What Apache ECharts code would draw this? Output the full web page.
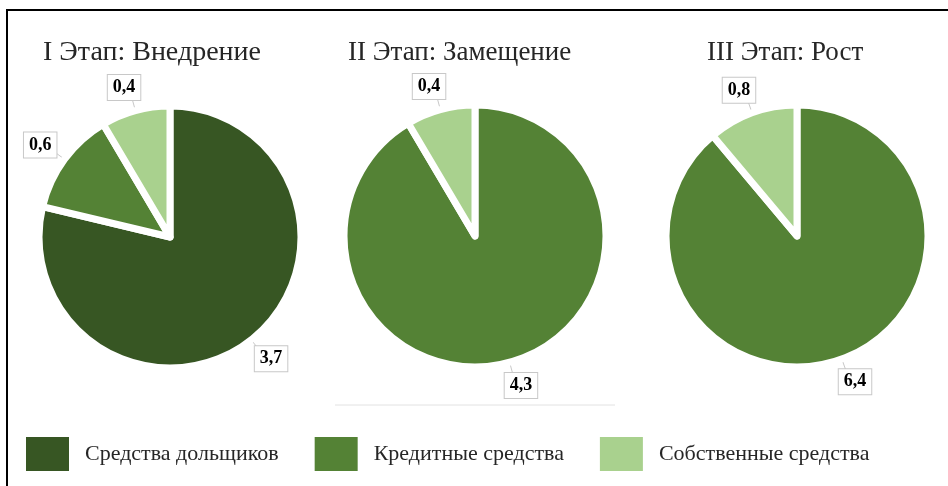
<!DOCTYPE html>
<html>
<head>
<meta charset="utf-8">
<script src="https://cdn.jsdelivr.net/npm/echarts@6/dist/echarts.min.js"></script>
<style>
  html, body { margin: 0; padding: 0; background: #fff; }
  #chart { width: 948px; height: 486px; }
</style>
</head>
<body>
<div id="chart"></div>
<script>
// Funding sources, shared by all three stages
const categories = ['Средства дольщиков', 'Кредитные средства', 'Собственные средства'];
const stageTitles = ['I Этап: Внедрение', 'II Этап: Замещение', 'III Этап: Рост'];
// Values per stage, in category order (null = source not used at that stage)
const stage1Values = [3.7, 0.6, 0.4];
const stage2Values = [null, 4.3, 0.4];
const stage3Values = [null, 6.4, 0.8];

const palette = { 'Средства дольщиков': '#375623', 'Кредитные средства': '#548235', 'Собственные средства': '#A9D18E' };
const centers = [[170, 237], [475, 236], [797, 236]];
const titleLeft = [38, 343, 702];
const titleSize = [28, 27, 27];
const serif = 'Liberation Serif';

function buildData(values) {
  const out = [];
  values.forEach((v, i) => {
    if (v == null) return;
    out.push({ name: categories[i], value: v, itemStyle: { color: palette[categories[i]] } });
  });
  return out;
}

const stages = [stage1Values, stage2Values, stage3Values];

const chart = echarts.init(document.getElementById('chart'), null, { renderer: 'canvas' });

chart.setOption({
  backgroundColor: '#fff',
  animation: false,
  title: stageTitles.map((t, i) => ({
    text: t,
    left: titleLeft[i],
    top: 34,
    textStyle: { fontFamily: serif, fontSize: titleSize[i], fontWeight: 'normal', color: '#262626' }
  })),
  legend: {
    data: categories,
    left: 19,
    top: 430,
    icon: 'rect',
    itemWidth: 45,
    itemHeight: 36,
    itemGap: 34,
    selectedMode: false,
    textStyle: { fontFamily: serif, fontSize: 22, color: '#262626', padding: [0, 0, 0, 10] }
  },
  graphic: [
    { type: 'polyline', shape: { points: [[7, 486], [7, 10], [948, 10]] }, style: { stroke: '#000', lineWidth: 2, fill: null }, silent: true },
    { type: 'line', shape: { x1: 335, y1: 405, x2: 615, y2: 405 }, style: { stroke: '#e2e2e2', lineWidth: 1 }, silent: true }
  ],
  series: stages.map((vals, i) => ({
    type: 'pie',
    center: centers[i],
    radius: 131,
    startAngle: 90,
    clockwise: true,
    avoidLabelOverlap: false,
    emphasis: { disabled: true },
    itemStyle: { borderColor: '#fff', borderWidth: 7 },
    label: {
      show: true,
      position: 'outside',
      formatter: p => String(p.value).replace('.', ','),
      fontFamily: serif,
      fontWeight: 'bold',
      fontSize: 18,
      color: '#000',
      backgroundColor: '#fff',
      borderColor: '#c8c8c8',
      borderWidth: 1,
      padding: [4, 5, 3, 5]
    },
    labelLine: { show: true, length: 24, length2: 0, lineStyle: { color: '#c8c8c8', width: 1 } },
    labelLayout: () => ({ align: 'center' }),
    data: buildData(vals)
  }))
});
</script>
</body>
</html>
